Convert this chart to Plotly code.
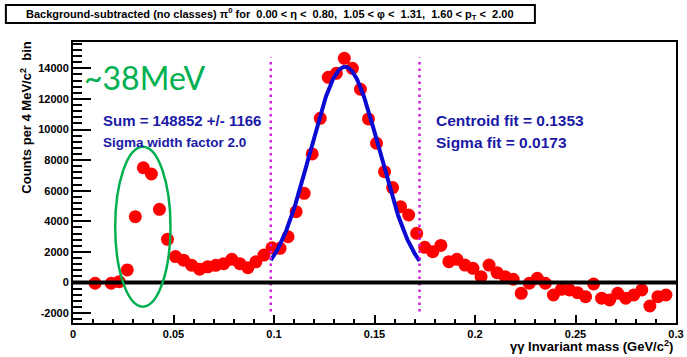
import numpy as np
import plotly.graph_objects as go

# Background-subtracted diphoton invariant mass spectrum (4 MeV/c^2 bins)
mass = [0.011, 0.019, 0.023, 0.027, 0.031, 0.035, 0.039, 0.043, 0.047, 0.051,
        0.055, 0.059, 0.063, 0.067, 0.071, 0.075, 0.079, 0.083, 0.087, 0.091,
        0.095, 0.099, 0.103, 0.107, 0.111, 0.115, 0.119, 0.123, 0.127, 0.131,
        0.135, 0.139, 0.143, 0.147, 0.151, 0.155, 0.159, 0.163, 0.167, 0.171,
        0.175, 0.179, 0.183, 0.187, 0.191, 0.195, 0.199, 0.203, 0.207, 0.211,
        0.215, 0.219, 0.223, 0.227, 0.231, 0.235, 0.239, 0.243, 0.247, 0.251,
        0.255, 0.259, 0.263, 0.267, 0.271, 0.275, 0.279, 0.283, 0.287, 0.291,
        0.295]
counts = [-50, -50, 50, 820, 4300, 7500, 7090, 4780, 2820, 1690,
          1460, 1130, 870, 1020, 1120, 1230, 1510, 1230, 970, 1350,
          1790, 2270, 2235, 2990, 4630, 5830, 8400, 10730, 13410, 13670,
          14650, 14000, 12630, 10690, 9100, 7240, 6200, 4950, 4410, 3210,
          2300, 2010, 2420, 1360, 1515, 1140, 925, 380, 1140, 640,
          380, 210, -710, -50, 270, -50, -820, -450, -490, -670,
          -930, -100, -1030, -1140, -710, -1030, -820, -490, -1540, -930,
          -820]

# Gaussian fit parameters
fit_centroid = 0.1353
fit_sigma = 0.0173
fit_amplitude = 14100
window = [0.0984, 0.1724]

x_ticks = [0, 0.05, 0.1, 0.15, 0.2, 0.25, 0.3]
x_tick_text = ["0", "0.05", "0.1", "0.15", "0.2", "0.25", "0.3"]
y_ticks = [-2000, 0, 2000, 4000, 6000, 8000, 10000, 12000, 14000]
y_tick_text = [str(v) for v in y_ticks]

FONT = "Liberation Sans"
TEXT_BLUE = "#1a1aa6"

xf = np.linspace(window[0], window[1], 200)
yf = fit_amplitude * np.exp(-0.5 * ((xf - fit_centroid) / fit_sigma) ** 2)

fig = go.Figure()
fig.add_trace(go.Scatter(x=mass, y=counts, mode="markers",
                         marker=dict(color="#ff0000", size=13, line=dict(width=0)),
                         hoverinfo="x+y"))
fig.add_trace(go.Scatter(x=xf, y=yf, mode="lines",
                         line=dict(color="#0a0ad2", width=4), hoverinfo="skip"))

# integration window markers
for xw in window:
    fig.add_shape(type="line", xref="x", yref="y", x0=xw, x1=xw, y0=-1900, y1=14700,
                  line=dict(color="#d020d8", width=2.5, dash="2.5px,4px"), layer="above")

# zero baseline
fig.add_shape(type="line", xref="x", yref="y", x0=0, x1=0.3, y0=0, y1=0,
              line=dict(color="black", width=4), layer="above")

# highlight of the low-mass structure
fig.add_shape(type="circle", xref="x", yref="y", x0=0.0210, x1=0.0485,
              y0=-1580, y1=8880, line=dict(color="#00b050", width=2.5), layer="above")

# title box
fig.add_shape(type="rect", xref="paper", yref="paper", x0=-0.1113, x1=0.766,
              y0=1.0676, y1=1.1317, line=dict(color="black", width=2),
              fillcolor="white")

annotations = [
    dict(text="Background-subtracted (no classes) π<sup>0</sup> for  0.00 &lt; η &lt;  0.80,  "
              "1.05 &lt; φ &lt;  1.31,  1.60 &lt; p<sub>T</sub> &lt;  2.00",
         xref="paper", yref="paper", x=0.3273, y=1.0996, xanchor="center", yanchor="middle",
         font=dict(family=FONT, size=11, color="black", weight="bold")),
    dict(text="Counts per 4 MeV/c<sup>2</sup>  bin", textangle=-90,
         xref="paper", yref="paper", x=-0.0785, y=1.007, xanchor="center", yanchor="top",
         font=dict(family=FONT, size=13, color="black", weight="bold")),
    dict(text="γγ Invariant mass (GeV/c<sup>2</sup>)",
         xref="paper", yref="paper", x=0.998, y=-0.082, xanchor="right", yanchor="middle",
         font=dict(family=FONT, size=13, color="black", weight="bold")),
    dict(text="~38MeV", xref="x", yref="y", x=0.0047, y=13370, xanchor="left",
         yanchor="middle", font=dict(family="Lato", size=32, color="#00b050")),
    dict(text="Sum = 148852 +/- 1166", xref="x", yref="y", x=0.0139, y=10620,
         xanchor="left", yanchor="middle",
         font=dict(family=FONT, size=15, color=TEXT_BLUE, weight="bold")),
    dict(text="Sigma width factor 2.0", xref="x", yref="y", x=0.0139, y=9120,
         xanchor="left", yanchor="middle",
         font=dict(family=FONT, size=13.5, color=TEXT_BLUE, weight="bold")),
    dict(text="Centroid fit = 0.1353", xref="x", yref="y", x=0.1798, y=10620,
         xanchor="left", yanchor="middle",
         font=dict(family=FONT, size=15.5, color=TEXT_BLUE, weight="bold")),
    dict(text="Sigma fit = 0.0173", xref="x", yref="y", x=0.1798, y=9150,
         xanchor="left", yanchor="middle",
         font=dict(family=FONT, size=15.5, color=TEXT_BLUE, weight="bold")),
]
for a in annotations:
    a["showarrow"] = False
    fig.add_annotation(**a)

fig.update_xaxes(range=[0, 0.3], tickvals=x_ticks, ticktext=x_tick_text,
                 ticks="inside", ticklen=8, tickwidth=2, tickcolor="black",
                 minor=dict(dtick=0.01, ticks="inside", ticklen=4, tickwidth=2, tickcolor="black"),
                 showline=True, linewidth=2, linecolor="black", mirror=True,
                 showgrid=False, zeroline=False, ticklabeloverflow="allow",
                 tickfont=dict(family=FONT, size=11, color="black", weight="bold"))
fig.update_yaxes(range=[-2650, 15720], tickvals=y_ticks, ticktext=y_tick_text,
                 ticks="inside", ticklen=18, tickwidth=2, tickcolor="black",
                 minor=dict(dtick=400, ticks="inside", ticklen=9, tickwidth=2, tickcolor="black"),
                 showline=True, linewidth=2, linecolor="black", mirror=True,
                 showgrid=False, zeroline=False,
                 tickfont=dict(family=FONT, size=11, color="black", weight="bold"))

fig.update_layout(width=687, height=357, margin=dict(l=73, r=3, t=42, b=34),
                  paper_bgcolor="white", plot_bgcolor="white", showlegend=False)

fig.write_html("out.html")
